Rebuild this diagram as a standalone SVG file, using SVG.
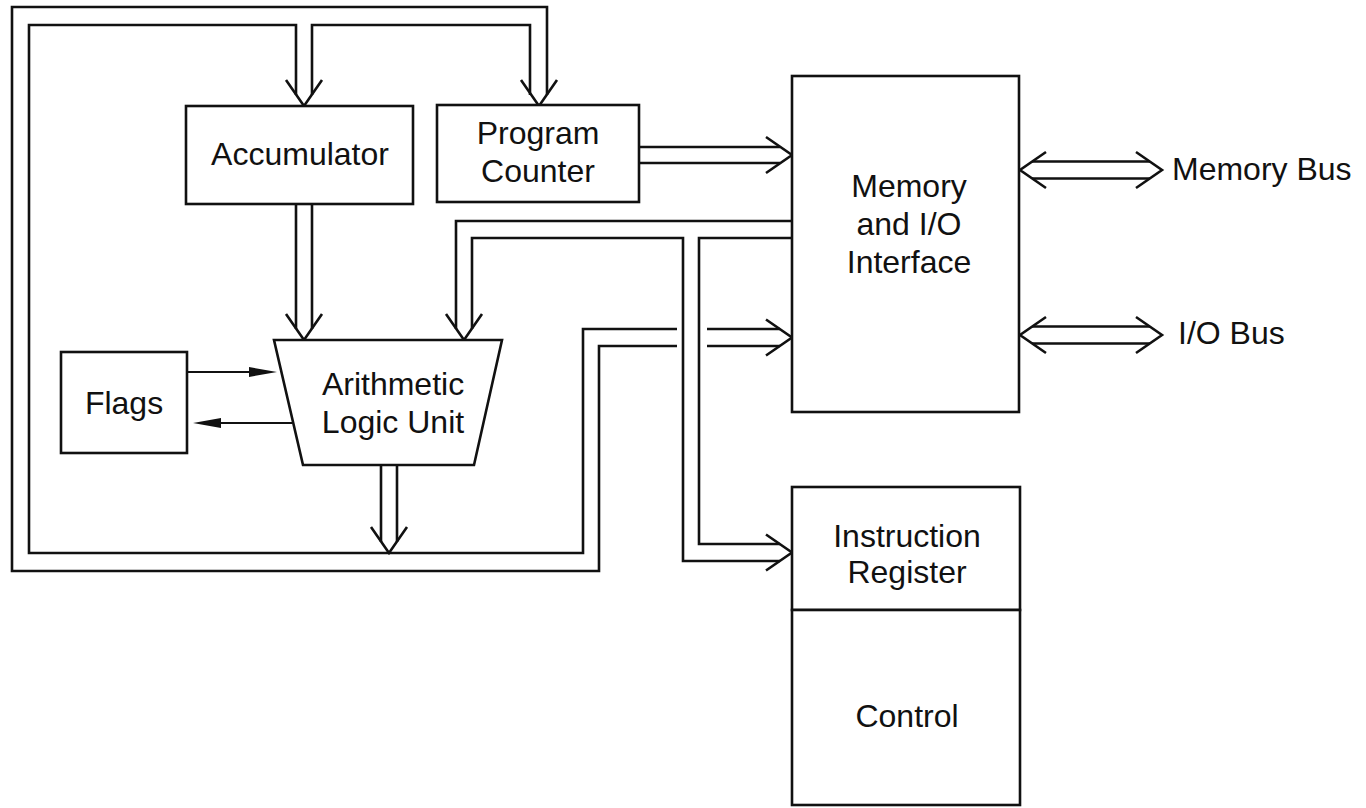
<svg xmlns="http://www.w3.org/2000/svg" xmlns:xlink="http://www.w3.org/1999/xlink" width="1366" height="808" viewBox="0 0 1366 808">
<style>
.box{fill:#fff;stroke:#111;stroke-width:2.6}
.bus{fill:none;stroke:#111;stroke-width:2.6;stroke-linejoin:miter;stroke-linecap:butt}
.head{fill:none;stroke:#111;stroke-width:2.6;stroke-linejoin:miter}
.thin{fill:none;stroke:#111;stroke-width:2}
.fhead{fill:#111;stroke:none}
.t{font-family:"Liberation Sans",Arial,Helvetica,sans-serif;font-size:32px;fill:#111}
.c{text-anchor:middle}
</style>
<defs>
<path id="vhead" d="M-18,-26 L0,0 L18,-26"/>
<path id="fhead" d="M0,0 L-28,-5 L-28,5 Z"/>
</defs>
<rect width="1366" height="808" fill="#fff"/>
<g id="connectors">
<!-- outer loop line -->
<path class="bus" d="M780,346 L707,346 M677,346 L599,346 L599,571 L12,571 L12,7 L547,7 L547,95"/>
<!-- inner loop line -->
<path class="bus" d="M780,329 L707,329 M677,329 L583,329 L583,553 L29,553 L29,25 L296,25 L296,95"/>
<!-- middle line between accumulator and PC branches -->
<path class="bus" d="M312,95 L312,25 L530,25 L530,95"/>
<use xlink:href="#vhead" class="head" transform="translate(304,106)"/>
<use xlink:href="#vhead" class="head" transform="translate(539,106)"/>
<!-- accumulator to ALU -->
<path class="bus" d="M296,204 L296,329 M312,204 L312,329"/>
<use xlink:href="#vhead" class="head" transform="translate(304,340)"/>
<!-- memory to ALU, with branch to instruction register -->
<path class="bus" d="M792,221 L456,221 L456,329"/>
<path class="bus" d="M792,238 L699,238 L699,544 L780,544"/>
<path class="bus" d="M472,329 L472,238 L683,238 L683,561 L780,561"/>
<use xlink:href="#vhead" class="head" transform="translate(464,340)"/>
<use xlink:href="#vhead" class="head" transform="translate(792,552.5) rotate(-90)"/>
<!-- ALU output -->
<path class="bus" d="M381,465 L381,542 M397,465 L397,542"/>
<use xlink:href="#vhead" class="head" transform="translate(389,553)"/>
<use xlink:href="#vhead" class="head" transform="translate(792,337.5) rotate(-90)"/>
<!-- PC to memory -->
<path class="bus" d="M639,147 L780,147 M639,163 L780,163"/>
<use xlink:href="#vhead" class="head" transform="translate(792,155) rotate(-90)"/>
<!-- Memory bus -->
<path class="bus" d="M1032,161.5 L1150,161.5 M1032,178.5 L1150,178.5"/>
<use xlink:href="#vhead" class="head" transform="translate(1020,170) rotate(90)"/>
<use xlink:href="#vhead" class="head" transform="translate(1162,170) rotate(-90)"/>
<!-- I/O bus -->
<path class="bus" d="M1032,326.5 L1150,326.5 M1032,343.5 L1150,343.5"/>
<use xlink:href="#vhead" class="head" transform="translate(1020,335) rotate(90)"/>
<use xlink:href="#vhead" class="head" transform="translate(1162,335) rotate(-90)"/>
<!-- flags arrows -->
<path class="thin" d="M187,372 L262,372"/>
<use xlink:href="#fhead" class="fhead" transform="translate(277,372)"/>
<path class="thin" d="M292,423 L208,423"/>
<use xlink:href="#fhead" class="fhead" transform="translate(193,423) rotate(180)"/>
</g>
<g id="accumulator">
<rect class="box" x="186" y="106" width="227" height="98"/>
<text class="t c" x="300" y="165">Accumulator</text>
</g>
<g id="program-counter">
<rect class="box" x="437" y="105" width="202" height="97"/>
<text class="t c" x="538" y="144">Program</text>
<text class="t c" x="538" y="182">Counter</text>
</g>
<g id="flags">
<rect class="box" x="61" y="352" width="126" height="101"/>
<text class="t c" x="124" y="414">Flags</text>
</g>
<g id="alu">
<polygon class="box" points="274,340 502,340 474,465 303,465"/>
<text class="t c" x="393" y="395">Arithmetic</text>
<text class="t c" x="393" y="433">Logic Unit</text>
</g>
<g id="memory-io">
<rect class="box" x="792" y="76" width="227" height="336"/>
<text class="t c" x="909" y="197">Memory</text>
<text class="t c" x="909" y="235">and I/O</text>
<text class="t c" x="909" y="273">Interface</text>
</g>
<g id="instruction-register">
<rect class="box" x="792" y="487" width="228" height="123"/>
<text class="t c" x="907" y="547">Instruction</text>
<text class="t c" x="907" y="583">Register</text>
</g>
<g id="control">
<rect class="box" x="792" y="610" width="228" height="195"/>
<text class="t c" x="907" y="727">Control</text>
</g>
<g id="memory-bus-label">
<text class="t" x="1172" y="180">Memory Bus</text>
</g>
<g id="io-bus-label">
<text class="t" x="1178" y="344">I/O Bus</text>
</g>
</svg>
